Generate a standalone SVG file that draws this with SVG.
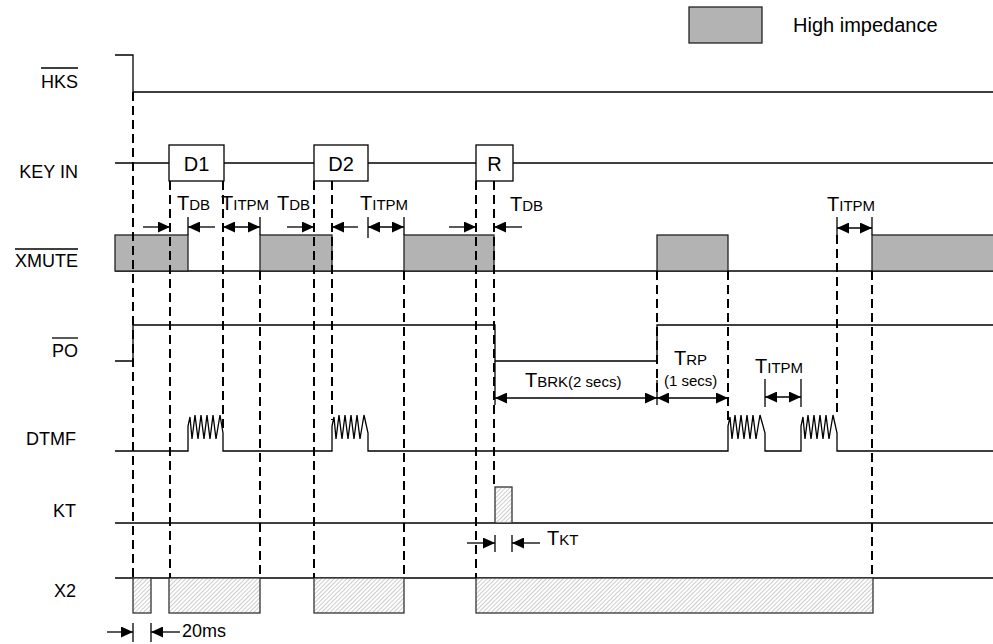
<svg xmlns="http://www.w3.org/2000/svg" width="993" height="644" viewBox="0 0 993 644">
<style>
.sig{fill:none;stroke:#000;stroke-width:1.3}
.hz{fill:#b3b3b3;stroke:#222;stroke-width:1.3}
.ht{fill:url(#hatch);stroke:#333;stroke-width:1.3}
.box{fill:#fff;stroke:#000;stroke-width:1.3}
.dash{fill:none;stroke:#000;stroke-width:2;stroke-dasharray:9 5}
.arr{fill:none;stroke:#000;stroke-width:1.3;marker-end:url(#ah)}
.darr{fill:none;stroke:#000;stroke-width:1.3;marker-start:url(#ah);marker-end:url(#ah)}
.tick{fill:none;stroke:#000;stroke-width:1.3}
.lbl{font-family:"Liberation Sans",Arial,sans-serif;font-size:18px;fill:#000}
.big{font-family:"Liberation Sans",Arial,sans-serif;font-size:20px;fill:#000}
.t{font-family:"Liberation Sans",Arial,sans-serif;font-size:20px;fill:#000}
.s{font-size:15px}
.ol{stroke:#000;stroke-width:1.3}
</style>
<defs>
<pattern id="hatch" width="3" height="3" patternUnits="userSpaceOnUse" patternTransform="rotate(45)">
<rect width="3" height="3" fill="#fff"/>
<line x1="0" y1="0" x2="0" y2="3" stroke="#999" stroke-width="1"/>
</pattern>
<marker id="ah" viewBox="0 0 12 11" refX="12" refY="5.5" markerWidth="12" markerHeight="11" markerUnits="userSpaceOnUse" orient="auto-start-reverse">
<path d="M0,0 L12,5.5 L0,11 z" fill="#000"/>
</marker>
</defs>
<rect width="993" height="644" fill="#fff"/>

<g id="legend">
<rect x="689" y="7" width="73" height="36" class="hz"/>
<text x="793" y="32" class="big">High impedance</text>
</g>

<g id="labels">
<text x="78" y="88" class="lbl" text-anchor="end">HKS</text>
<line x1="41" y1="68" x2="78" y2="68" class="ol"/>
<text x="78" y="178" class="lbl" text-anchor="end">KEY IN</text>
<text x="78" y="267" class="lbl" text-anchor="end">XMUTE</text>
<line x1="15" y1="249" x2="78" y2="249" class="ol"/>
<text x="78" y="357" class="lbl" text-anchor="end">PO</text>
<line x1="52" y1="338" x2="78" y2="338" class="ol"/>
<text x="76" y="445" class="lbl" text-anchor="end">DTMF</text>
<text x="76" y="517" class="lbl" text-anchor="end">KT</text>
<text x="76" y="597" class="lbl" text-anchor="end">X2</text>
</g>

<g id="HKS">
<polyline class="sig" points="115,55 133,55 133,92 993,92"/>
</g>

<g id="KEYIN">
<line class="sig" x1="115" y1="163" x2="993" y2="163"/>
<g id="D1"><rect x="169" y="145" width="55" height="36" class="box"/><text x="196.5" y="171" class="big" text-anchor="middle">D1</text></g>
<g id="D2"><rect x="314" y="145" width="54" height="36" class="box"/><text x="341" y="171" class="big" text-anchor="middle">D2</text></g>
<g id="R"><rect x="476" y="145" width="37" height="36" class="box"/><text x="494.5" y="171" class="big" text-anchor="middle">R</text></g>
</g>

<g id="XMUTE">
<line class="sig" x1="115" y1="271" x2="993" y2="271"/>
<rect x="115" y="235" width="73" height="36" class="hz"/>
<rect x="260" y="235" width="72" height="36" class="hz"/>
<rect x="404" y="235" width="90" height="36" class="hz"/>
<rect x="657" y="235" width="71" height="36" class="hz"/>
<rect x="872" y="235" width="125" height="36" class="hz"/>
</g>

<g id="PO">
<polyline class="sig" points="115,361 133,361 133,325 495,325 495,361 657,361 657,325 993,325"/>
</g>

<g id="DTMF">
<polyline class="sig" points="115,451 188,451 188,426 190,417 192,439 195,415 198,439 201,415 204,439 207,415 210,439 213,415 216,439 220,415 223,433 223,451 332,451 332,426 334,417 336,439 339,415 342,439 345,415 348,439 351,415 354,439 357,415 360,439 364,415 368,433 368,451 728,451 728,426 730,417 732,439 735,415 738,439 741,415 744,439 747,415 750,439 753,415 756,439 760,415 765,433 765,451 801,451 801,426 803,417 805,439 808,415 811,439 814,415 817,439 820,415 823,439 826,415 829,439 833,415 837,433 837,451 993,451"/>
</g>

<g id="KT">
<line class="sig" x1="115" y1="523" x2="993" y2="523"/>
<rect x="495" y="487" width="17" height="36" class="ht"/>
</g>

<g id="X2">
<line class="sig" x1="115" y1="578" x2="993" y2="578"/>
<rect x="133" y="578" width="18" height="35" class="ht"/>
<rect x="169" y="578" width="91" height="35" class="ht"/>
<rect x="314" y="578" width="90" height="35" class="ht"/>
<rect x="476" y="578" width="397" height="35" class="ht"/>
</g>

<g id="connectors">
<line class="dash" x1="133" y1="92" x2="133" y2="578"/>
<line class="dash" x1="170" y1="181" x2="170" y2="578"/>
<line class="dash" x1="223" y1="181" x2="223" y2="433"/>
<line class="dash" x1="260" y1="271" x2="260" y2="578"/>
<line class="dash" x1="314" y1="181" x2="314" y2="578"/>
<line class="dash" x1="332" y1="181" x2="332" y2="420"/>
<line class="dash" x1="404" y1="271" x2="404" y2="578"/>
<line class="dash" x1="476" y1="181" x2="476" y2="578"/>
<line class="dash" x1="494" y1="181" x2="494" y2="487"/>
<line class="dash" x1="657" y1="271" x2="657" y2="398"/>
<line class="dash" x1="728" y1="271" x2="728" y2="420"/>
<line class="dash" x1="837" y1="235" x2="837" y2="415"/>
<line class="dash" x1="872" y1="271" x2="872" y2="578"/>

<line class="tick" x1="188" y1="217" x2="188" y2="235"/>
<line class="tick" x1="260" y1="217" x2="260" y2="235"/>
<line class="tick" x1="368" y1="217" x2="368" y2="238"/>
<line class="tick" x1="404" y1="217" x2="404" y2="235"/>
<line class="tick" x1="837" y1="217" x2="837" y2="235"/>
<line class="tick" x1="872" y1="217" x2="872" y2="235"/>
<line class="tick" x1="495" y1="361" x2="495" y2="405"/>
<line class="tick" x1="657" y1="380" x2="657" y2="405"/>
<line class="tick" x1="765" y1="379" x2="765" y2="407"/>
<line class="tick" x1="801" y1="379" x2="801" y2="407"/>
<line class="tick" x1="495" y1="535" x2="495" y2="552"/>
<line class="tick" x1="512" y1="535" x2="512" y2="552"/>
<line class="tick" x1="133" y1="623" x2="133" y2="642"/>
<line class="tick" x1="151" y1="623" x2="151" y2="642"/>

<line class="arr" x1="143" y1="227" x2="170" y2="227"/>
<line class="arr" x1="215" y1="227" x2="188" y2="227"/>
<line class="darr" x1="223" y1="227" x2="260" y2="227"/>
<line class="arr" x1="287" y1="227" x2="314" y2="227"/>
<line class="arr" x1="358" y1="227" x2="332" y2="227"/>
<line class="darr" x1="368" y1="227" x2="404" y2="227"/>
<line class="arr" x1="449" y1="227" x2="476" y2="227"/>
<line class="arr" x1="522" y1="227" x2="494" y2="227"/>
<line class="darr" x1="837" y1="228" x2="872" y2="228"/>
<line class="darr" x1="495" y1="398" x2="657" y2="398"/>
<line class="darr" x1="657" y1="398" x2="728" y2="398"/>
<line class="darr" x1="765" y1="397" x2="801" y2="397"/>
<line class="arr" x1="467" y1="543" x2="495" y2="543"/>
<line class="arr" x1="540" y1="543" x2="512" y2="543"/>
<line class="arr" x1="107" y1="632" x2="133" y2="632"/>
<line class="arr" x1="180" y1="632" x2="151" y2="632"/>
</g>

<g id="timing-labels">
<text x="177" y="210" class="t">T<tspan class="s">DB</tspan></text>
<text x="221" y="210" class="t">T<tspan class="s">ITPM</tspan></text>
<text x="277" y="210" class="t">T<tspan class="s">DB</tspan></text>
<text x="360" y="210" class="t">T<tspan class="s">ITPM</tspan></text>
<text x="510" y="211" class="t">T<tspan class="s">DB</tspan></text>
<text x="827" y="211" class="t">T<tspan class="s">ITPM</tspan></text>
<text x="525" y="387" class="t">T<tspan class="s">BRK(2 secs)</tspan></text>
<text x="674" y="365" class="t">T<tspan class="s">RP</tspan></text>
<text x="664" y="386" class="t"><tspan class="s">(1 secs)</tspan></text>
<text x="755" y="373" class="t">T<tspan class="s">ITPM</tspan></text>
<text x="547" y="545" class="t">T<tspan class="s">KT</tspan></text>
<text x="182" y="637" class="lbl">20ms</text>
</g>
</svg>
